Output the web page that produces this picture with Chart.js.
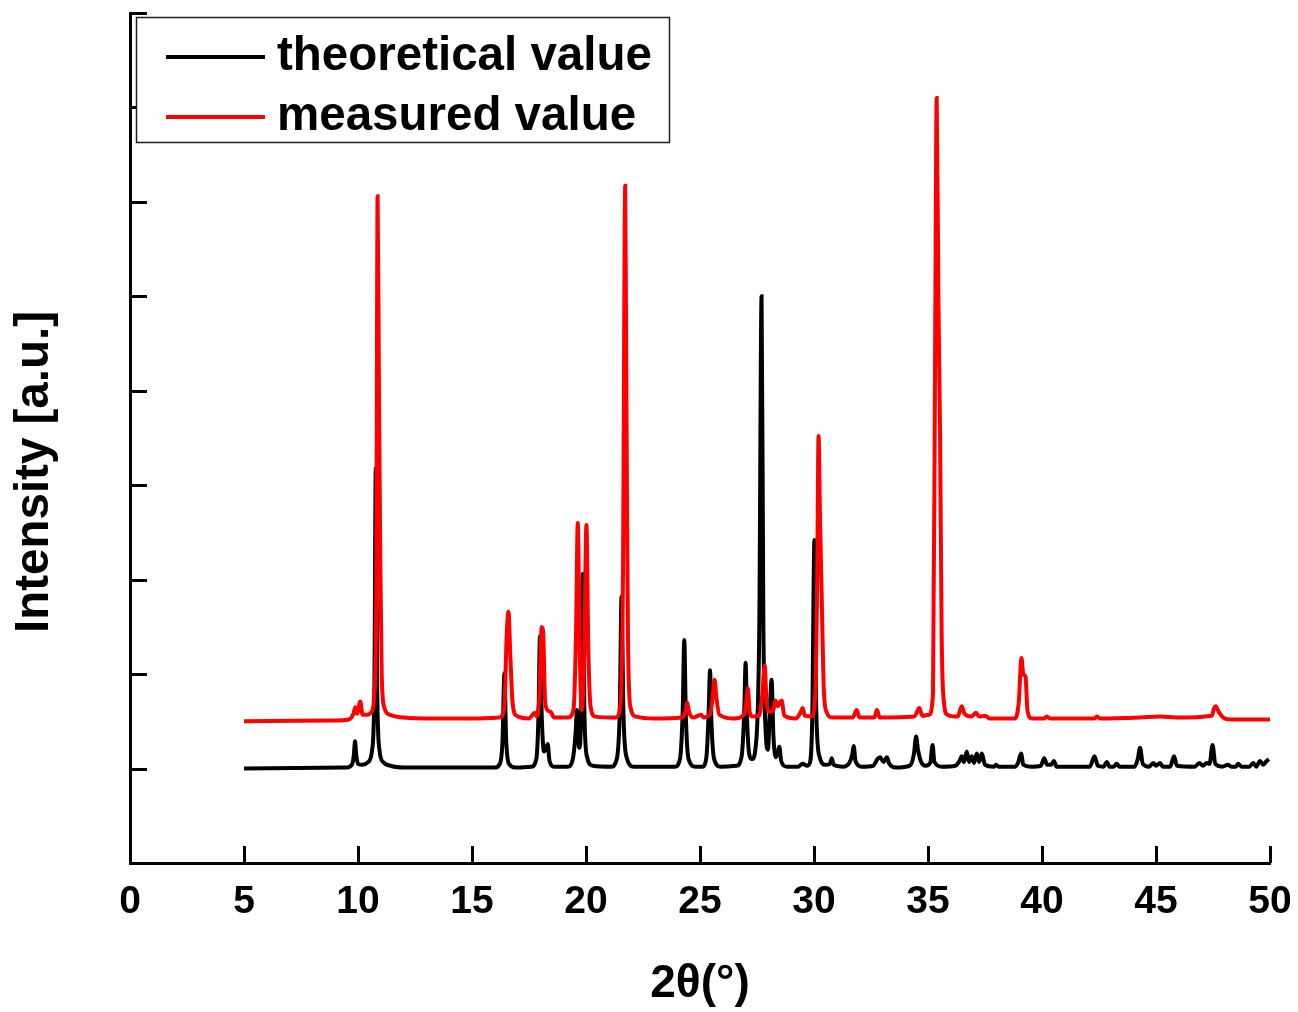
<!DOCTYPE html>
<html>
<head>
<meta charset="utf-8">
<title>XRD pattern</title>
<script src="https://cdn.jsdelivr.net/npm/chart.js@4.4.1/dist/chart.umd.min.js"></script>
<style>
  html, body { margin: 0; padding: 0; background: #fff; }
  #wrap { width: 1298px; height: 1012px; position: relative; }
</style>
</head>
<body>
<div id="wrap"><canvas id="xrd"></canvas></div>
<script>
const seriesLabels = ['theoretical value', 'measured value'];
const xTickValues = [0, 5, 10, 15, 20, 25, 30, 35, 40, 45, 50];
const yTickValues = [0, 1, 2, 3, 4, 5, 6, 7, 8, 9];

// theoretical pattern (black)
const theoTheta = [
    5.0, 9.5, 9.75, 9.82, 9.87, 9.92, 10.0, 10.2, 10.45, 10.62, 10.72, 10.78, 10.84, 10.94, 11.1, 11.4, 12.0,
    16.0, 16.22, 16.34, 16.42, 16.5, 16.62, 16.9,
    17.6, 17.82, 17.92, 17.98, 18.06, 18.16, 18.26, 18.32, 18.4, 18.6,
    19.2, 19.42, 19.55, 19.6, 19.7, 19.78, 19.86, 19.93, 20.05, 20.3,
    21.1, 21.35, 21.48, 21.56, 21.64, 21.78, 22.1,
    23.9, 24.12, 24.24, 24.31, 24.38, 24.5, 24.8,
    25.1, 25.28, 25.38, 25.44, 25.5, 25.62, 25.9,
    26.6, 26.82, 26.94, 27.0, 27.06, 27.16, 27.28, 27.45, 27.6, 27.7, 27.78, 27.88, 27.98, 28.06, 28.14, 28.22, 28.32, 28.42, 28.48, 28.56, 28.8,
    29.3, 29.5, 29.7, 29.8, 29.92, 30.02, 30.1, 30.25, 30.5, 30.7, 30.78, 30.86, 31.3,
    31.55, 31.68, 31.74, 31.82, 32.1, 32.6, 32.78, 32.9, 33.05, 33.2, 33.3, 33.6,
    34.2, 34.38, 34.48, 34.56, 34.7, 34.9, 35.1, 35.2, 35.28, 35.6,
    36.2, 36.38, 36.48, 36.58, 36.7, 36.8, 36.92, 37.02, 37.14, 37.24, 37.36, 37.5, 37.9, 37.98, 38.1,
    38.8, 38.95, 39.08, 39.18, 39.5, 39.95, 40.1, 40.22, 40.4, 40.52, 40.64,
    42.1, 42.3, 42.45, 42.7, 42.84, 42.96, 43.15, 43.27, 43.4,
    44.05, 44.2, 44.3, 44.42, 44.7, 44.88, 45.0, 45.18, 45.3, 45.62, 45.79, 45.92,
    46.7, 46.9, 47.05, 47.22, 47.35, 47.48, 47.6, 47.9, 48.16, 48.3, 48.5, 48.6, 48.75, 49.1, 49.26, 49.4, 49.56, 49.7, 49.85, 49.95
];
const theoIntensity = [
    1.00, 1.01, 1.05, 1.15, 1.29, 1.15, 1.05, 1.04, 1.07, 1.2, 1.9, 4.18, 1.9, 1.2, 1.07, 1.03, 1.01,
    1.01, 1.05, 1.3, 2.01, 1.3, 1.05, 1.01,
    1.02, 1.1, 1.6, 2.40, 1.55, 1.18, 1.22, 1.26, 1.08, 1.02,
    1.02, 1.1, 1.4, 1.62, 1.22, 1.5, 3.06, 1.6, 1.12, 1.03,
    1.02, 1.1, 1.6, 2.82, 1.6, 1.12, 1.02,
    1.02, 1.1, 1.6, 2.36, 1.55, 1.1, 1.02,
    1.02, 1.12, 1.6, 2.04, 1.5, 1.1, 1.02,
    1.03, 1.12, 1.6, 2.12, 1.55, 1.15, 1.1, 1.25, 2.5, 6.0, 2.5, 1.4, 1.2, 1.6, 1.94, 1.35, 1.12, 1.18, 1.23, 1.08, 1.02,
    1.02, 1.05, 1.03, 1.05, 1.5, 3.42, 1.6, 1.12, 1.04, 1.05, 1.11, 1.04, 1.02,
    1.06, 1.15, 1.24, 1.08, 1.02, 1.03, 1.10, 1.12, 1.07, 1.12, 1.05, 1.01,
    1.03, 1.15, 1.34, 1.2, 1.07, 1.03, 1.06, 1.25, 1.07, 1.02,
    1.03, 1.08, 1.13, 1.07, 1.18, 1.07, 1.13, 1.06, 1.16, 1.07, 1.16, 1.04, 1.02, 1.04, 1.02,
    1.02, 1.06, 1.16, 1.04, 1.02, 1.03, 1.11, 1.04, 1.04, 1.08, 1.02,
    1.02, 1.13, 1.03, 1.02, 1.07, 1.02, 1.02, 1.05, 1.02,
    1.02, 1.10, 1.22, 1.05, 1.02, 1.06, 1.03, 1.06, 1.02, 1.02, 1.13, 1.03,
    1.02, 1.06, 1.03, 1.06, 1.05, 1.25, 1.05, 1.02, 1.04, 1.02, 1.02, 1.05, 1.02, 1.02, 1.06, 1.02, 1.08, 1.04, 1.08, 1.10
];

// measured pattern (red), offset upward in the figure
const measTheta = [
    5.0, 9.0, 9.6, 9.8, 9.88, 9.96, 10.1, 10.2, 10.4, 10.6, 10.72, 10.8, 10.86, 10.92, 10.98, 11.04, 11.15, 11.4, 12.0, 13.4, 14.9,
    16.2, 16.42, 16.52, 16.6, 16.68, 16.78, 16.95,
    17.5, 17.76, 17.85, 17.95, 18.06, 18.12, 18.2, 18.3, 18.45, 18.6,
    19.2, 19.45, 19.56, 19.64, 19.72, 19.82, 19.92, 20.02, 20.1, 20.2, 20.4,
    21.3, 21.5, 21.62, 21.72, 21.78, 21.84, 21.95, 22.2, 23.0,
    24.2, 24.36, 24.44, 24.52, 24.7, 25.05, 25.15, 25.45, 25.55, 25.64, 25.72, 25.85, 26.5,
    26.95, 27.05, 27.1, 27.18, 27.3, 27.6, 27.72, 27.84, 27.92, 28.05, 28.22, 28.3, 28.42, 28.5, 28.58, 28.7,
    29.2, 29.42, 29.5, 29.6, 29.9, 30.06, 30.14, 30.2, 30.26, 30.33, 30.42, 30.55, 30.8,
    31.7, 31.87, 32.0, 32.65, 32.76, 32.88, 34.4, 34.62, 34.75,
    35.05, 35.22, 35.32, 35.38, 35.46, 35.53, 35.6, 35.7, 35.85,
    36.3, 36.48, 36.6, 36.9, 37.1, 37.25, 37.5, 37.7, 38.8,
    38.98, 39.1, 39.18, 39.28, 39.36, 39.55, 40.1, 40.2, 40.35,
    42.3, 42.4, 42.55, 44.3, 45.15, 45.9, 47.45, 47.55, 47.62, 47.75, 47.95, 48.3, 50.0
];
const measIntensity = [
    1.50, 1.51, 1.52, 1.58, 1.65, 1.58, 1.71, 1.57, 1.57, 1.6, 1.8, 2.8, 7.06, 5.0, 3.16, 2.0, 1.65, 1.57, 1.54, 1.53, 1.53,
    1.54, 1.65, 2.4, 2.66, 2.2, 1.7, 1.56,
    1.53, 1.59, 1.55, 1.75, 2.50, 2.45, 1.75, 1.62, 1.60, 1.54,
    1.54, 1.62, 2.4, 3.60, 2.3, 1.62, 2.2, 3.58, 2.3, 1.66, 1.55,
    1.54, 1.65, 3.0, 7.17, 4.6, 2.4, 1.65, 1.55, 1.53,
    1.54, 1.6, 1.70, 1.6, 1.54, 1.57, 1.54, 1.58, 1.75, 1.94, 1.75, 1.57, 1.53,
    1.58, 1.75, 1.85, 1.6, 1.55, 1.56, 1.75, 2.09, 1.7, 1.6, 1.62, 1.72, 1.66, 1.70, 1.72, 1.56,
    1.53, 1.6, 1.64, 1.56, 1.55, 1.8, 3.0, 4.52, 3.7, 2.92, 1.9, 1.6, 1.54,
    1.54, 1.62, 1.54, 1.54, 1.62, 1.54, 1.55, 1.64, 1.56,
    1.57, 1.8, 5.78, 8.10, 5.9, 4.53, 2.4, 1.7, 1.57,
    1.55, 1.66, 1.58, 1.55, 1.59, 1.55, 1.56, 1.53, 1.53,
    1.7, 2.17, 2.0, 1.97, 1.62, 1.53, 1.53, 1.55, 1.53,
    1.53, 1.55, 1.53, 1.54, 1.55, 1.54, 1.56, 1.64, 1.66, 1.6, 1.54, 1.52, 1.52
];

const FONT = "'Liberation Sans', Arial, Helvetica, sans-serif";

function toPoints(xs, ys) {
    return xs.map((x, i) => ({ x: x, y: ys[i] }));
}

// ticks pointing into the plot, like the original
const inwardTicks = {
    id: 'inwardTicks',
    afterDraw(chart) {
        const { ctx, chartArea, scales } = chart;
        const len = 17;
        ctx.save();
        ctx.strokeStyle = '#000';
        ctx.lineWidth = 3;
        ctx.beginPath();
        scales.x.ticks.forEach(t => {
            const px = Math.round(scales.x.getPixelForValue(t.value)) + 0.5;
            ctx.moveTo(px, chartArea.bottom);
            ctx.lineTo(px, chartArea.bottom - len);
        });
        scales.y.ticks.forEach(t => {
            const py = Math.round(scales.y.getPixelForValue(t.value)) + 0.5;
            ctx.moveTo(chartArea.left, py);
            ctx.lineTo(chartArea.left + len, py);
        });
        ctx.stroke();
        ctx.restore();
    }
};

// legend in a framed box inside the plot
const boxedLegend = {
    id: 'boxedLegend',
    afterDraw(chart) {
        const { ctx, chartArea } = chart;
        const left = chartArea.left + 6.5, top = chartArea.top + 4.5;
        ctx.save();
        ctx.fillStyle = '#fff';
        ctx.fillRect(left, top, 533, 125);
        ctx.strokeStyle = '#222';
        ctx.lineWidth = 1.5;
        ctx.strokeRect(left, top, 533, 125);
        chart.data.datasets.forEach((ds, i) => {
            const y = 57 + i * 60;
            ctx.strokeStyle = ds.borderColor;
            ctx.lineWidth = 4;
            ctx.beginPath();
            ctx.moveTo(166, y);
            ctx.lineTo(265, y);
            ctx.stroke();
            ctx.fillStyle = '#000';
            ctx.font = 'bold 47.5px ' + FONT;
            ctx.textBaseline = 'middle';
            ctx.textAlign = 'left';
            ctx.fillText(ds.label, 277, y);
        });
        ctx.restore();
    }
};

// y title sits a bit below the axis centre in the original
const yTitle = {
    id: 'yTitle',
    afterDraw(chart) {
        const { ctx } = chart;
        ctx.save();
        ctx.translate(35, 472);
        ctx.rotate(-Math.PI / 2);
        ctx.fillStyle = '#000';
        ctx.font = 'bold 47.5px ' + FONT;
        ctx.textAlign = 'center';
        ctx.textBaseline = 'middle';
        ctx.fillText('Intensity [a.u.]', 0, 0);
        ctx.restore();
    }
};

document.addEventListener('DOMContentLoaded', () => {
    const cvs = document.getElementById('xrd');
    new Chart(cvs, {
        type: 'line',
        data: {
            datasets: [{
                label: seriesLabels[0],
                data: toPoints(theoTheta, theoIntensity),
                borderColor: '#000000',
                backgroundColor: '#000000',
                borderWidth: 4,
                pointRadius: 0,
                cubicInterpolationMode: 'monotone',
                order: 2
            }, {
                label: seriesLabels[1],
                data: toPoints(measTheta, measIntensity),
                borderColor: '#ff0000',
                backgroundColor: '#ff0000',
                borderWidth: 4,
                pointRadius: 0,
                cubicInterpolationMode: 'monotone',
                order: 1
            }]
        },
        options: {
            responsive: true,
            maintainAspectRatio: false,
            animation: false,
            events: [],
            layout: { padding: { top: 13, right: 28, left: 0, bottom: 0 } },
            plugins: {
                legend: { display: false },
                tooltip: { enabled: false }
            },
            scales: {
                x: {
                    type: 'linear',
                    min: 0,
                    max: 50,
                    afterBuildTicks: s => { s.ticks = xTickValues.map(v => ({ value: v })); },
                    afterFit: s => {
                        s.height = 149;
                        s.paddingLeft = 0;
                        s.paddingRight = 0;
                    },
                    grid: { display: false, drawTicks: false },
                    border: { display: true, color: '#000', width: 3 },
                    ticks: {
                        color: '#000',
                        padding: 16,
                        maxRotation: 0,
                        autoSkip: false,
                        font: { family: FONT, size: 39, weight: 'bold' }
                    },
                    title: {
                        display: true,
                        text: '2θ(°)',
                        color: '#000',
                        padding: { top: 0, bottom: 0 },
                        font: { family: FONT, size: 46, weight: 'bold' }
                    }
                },
                y: {
                    type: 'linear',
                    min: 0,
                    max: 9,
                    afterBuildTicks: s => { s.ticks = yTickValues.map(v => ({ value: v })); },
                    afterFit: s => { s.width = 130; },
                    grid: { display: false, drawTicks: false },
                    border: { display: true, color: '#000', width: 3 },
                    ticks: { display: false }
                }
            }
        },
        plugins: [inwardTicks, boxedLegend, yTitle]
    });
});
</script>
</body>
</html>
